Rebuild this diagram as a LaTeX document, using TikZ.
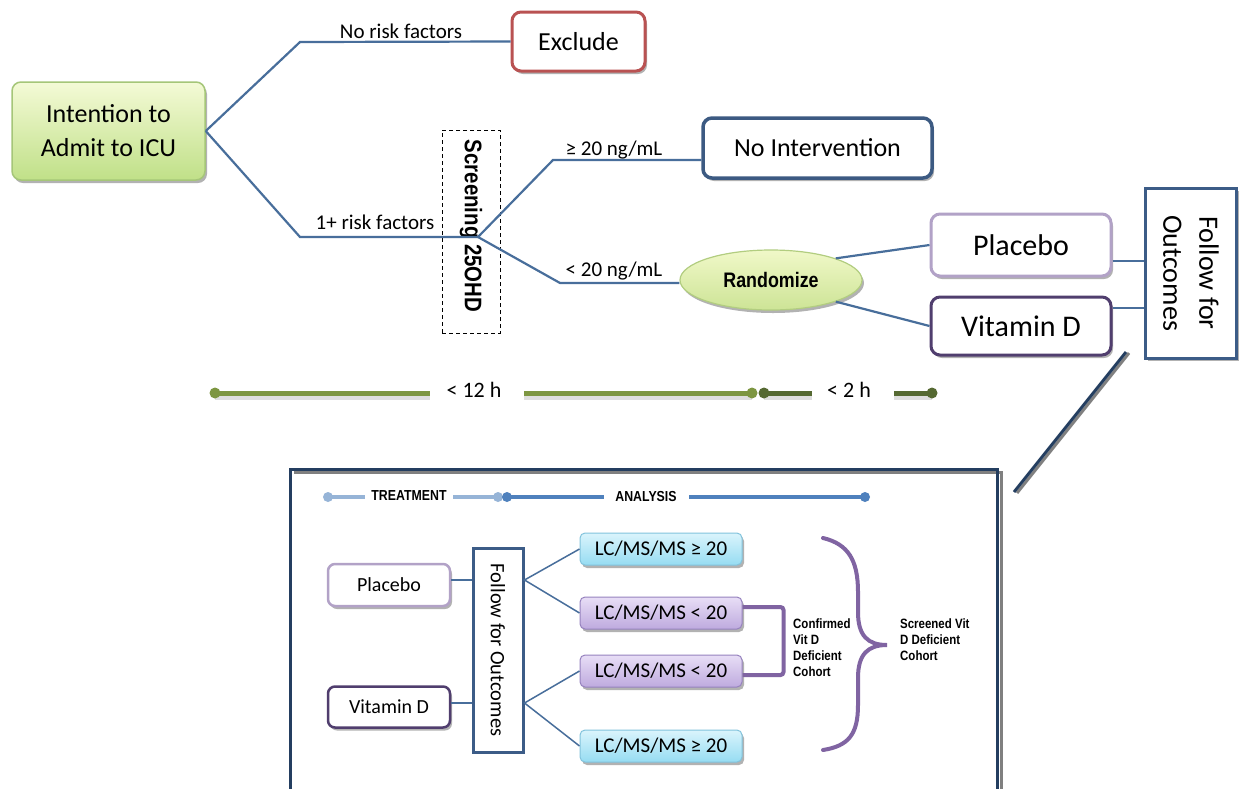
\documentclass[tikz,border=0pt]{standalone}
\usepackage{fontspec}
\setmainfont{Carlito}
\newfontfamily\narrowfont[FakeStretch=0.85]{Liberation Sans}
\usetikzlibrary{shadows,shapes.geometric,calc}
\definecolor{intTop}{RGB}{244,250,214}
\definecolor{intBot}{RGB}{192,224,136}
\definecolor{intB}{RGB}{165,198,120}
\definecolor{exclB}{RGB}{185,82,82}
\definecolor{noIntB}{RGB}{60,90,130}
\definecolor{placB}{RGB}{178,162,199}
\definecolor{vitB}{RGB}{80,62,110}
\definecolor{follB}{RGB}{60,92,135}
\definecolor{randTop}{RGB}{240,248,200}
\definecolor{randBot}{RGB}{205,228,150}
\definecolor{randB}{RGB}{178,205,128}
\definecolor{conn}{RGB}{72,110,155}
\definecolor{tlLight}{RGB}{125,150,65}
\definecolor{tlDark}{RGB}{85,105,50}
\definecolor{frameC}{RGB}{36,62,96}
\definecolor{ptlLight}{RGB}{150,180,215}
\definecolor{ptlDark}{RGB}{79,129,189}
\definecolor{cyanTop}{RGB}{218,244,252}
\definecolor{cyanBot}{RGB}{150,220,242}
\definecolor{cyanB}{RGB}{130,195,220}
\definecolor{purTop}{RGB}{232,222,246}
\definecolor{purBot}{RGB}{190,170,222}
\definecolor{purB}{RGB}{150,130,190}
\definecolor{braceC}{RGB}{128,100,162}
\tikzset{
  shad/.style={drop shadow={shadow xshift=2pt,shadow yshift=-3pt,opacity=0.3,fill=black}},
  rbox/.style={rectangle,rounded corners=9,fill=white,align=center,inner sep=0pt,shad},
  bigfont/.style={font=\fontsize{26}{34}\selectfont},
  lbl/.style={font=\fontsize{21}{24}\selectfont,inner sep=1pt},
  conn/.style={draw=conn,line width=2.2},
  boldn/.style={font=\narrowfont\bfseries\fontsize{#1}{#1}\selectfont},
  lcbox/.style={rectangle,rounded corners=5,draw=#1B,top color=#1Top,bottom color=#1Bot,line width=1,
    minimum width=162,minimum height=32,inner sep=0pt,font=\fontsize{21}{24}\selectfont,shad},
  tldot/.style={circle,fill=#1,inner sep=0pt,minimum size=11},
  smalltxt/.style={anchor=north west,align=left,inner sep=0pt,font=\narrowfont\bfseries\fontsize{13.5}{16}\selectfont}
}
\begin{document}
\begin{tikzpicture}[x=1pt,y=-1pt]
\useasboundingbox (0,0) rectangle (1239,788);
\fill[white] (0,0) rectangle (1239,788);

% ---------- top diagram nodes ----------
\node[rbox,draw=intB,line width=1.5,top color=intTop,bottom color=intBot,minimum width=193,minimum height=98,bigfont] (intent) at (108.5,131) {Intention to\\Admit to ICU};
\node[rbox,draw=exclB,line width=3,minimum width=133,minimum height=59,bigfont] (excl) at (578.5,41.5) {Exclude};
\node[draw,dashed,dash pattern=on 4pt off 3pt,line width=1,minimum width=58,minimum height=203,inner sep=0pt] (scr) at (471,231.5) {};
\node[rotate=-90,inner sep=0pt,boldn=24] (scrtxt) at (471,226) {Screening 25OHD};
\node[rbox,draw=noIntB,line width=3.5,minimum width=229,minimum height=60,bigfont] (noint) at (817.5,148) {No Intervention};
\node[ellipse,draw=randB,line width=1.2,top color=randTop,bottom color=randBot,minimum width=182,minimum height=60,inner sep=0pt,boldn=21,shad] (rand) at (771,280) {Randomize};
\node[rbox,draw=placB,line width=3,minimum width=180,minimum height=62,font=\fontsize{30}{34}\selectfont] (plac) at (1021,245) {Placebo};
\node[rbox,draw=vitB,line width=3,minimum width=180,minimum height=58,font=\fontsize{30}{34}\selectfont] (vit) at (1021,326) {Vitamin D};
\node[draw=follB,fill=white,line width=3,rotate=-90,minimum width=170,minimum height=91,inner sep=0pt,align=center,font=\fontsize{28}{36}\selectfont,shad] (follow) at (1191,273) {Follow for\\Outcomes};

% ---------- top connectors ----------
\coordinate (j1) at (300,42);
\coordinate (j2) at (300,237);
\coordinate (bp) at (478,237);
\coordinate (u1) at (553,160);
\coordinate (l1) at (560,283);
\draw[conn] (intent.east) -- (j1) -- (excl.west);
\draw[conn] (intent.east) -- (j2) -- (bp);
\draw[conn] (bp) -- (u1) -- (noint.west |- u1);
\draw[conn] (bp) -- (l1) -- (rand.west |- l1);
\draw[conn] (rand.north east) -- (plac.west);
\draw[conn] (rand.south east) -- (vit.west);
\coordinate (pl1) at ([yshift=-16pt]plac.east);
\coordinate (vi1) at ([yshift=18pt]vit.east);
\draw[draw=conn,line width=1.5] (pl1) -- (pl1 -| follow.south);
\draw[draw=conn,line width=1.5] (vi1) -- (vi1 -| follow.south);

\node[lbl] (lnr) at (401,31) {No risk factors};
\node[lbl] (l1r) at (375,222) {1+ risk factors};
\node[lbl] (lge) at (614,150) {≥ 20 ng/mL};
\node[lbl] (llt) at (614,271) {< 20 ng/mL};

% ---------- time line ----------
\coordinate (t1) at (215,393);
\coordinate (t1e) at (430,393);
\coordinate (t2s) at (524,393);
\coordinate (t2) at (752,393);
\coordinate (t3) at (764,393);
\coordinate (t3e) at (812,393);
\coordinate (t4s) at (894,393);
\coordinate (t4) at (932,393);
\node[font=\fontsize{22}{24}\selectfont] (h12) at (474,390) {< 12 h};
\node[font=\fontsize{22}{24}\selectfont] (h2) at (849,390) {< 2 h};
\begin{scope}[line width=5]
\draw[black,opacity=0.13,line width=6] ([yshift=-4pt]t1) -- ([yshift=-4pt]t1e);
\draw[black,opacity=0.13,line width=6] ([yshift=-4pt]t2s) -- ([yshift=-4pt]t2);
\draw[black,opacity=0.13,line width=6] ([yshift=-4pt]t3) -- ([yshift=-4pt]t3e);
\draw[black,opacity=0.13,line width=6] ([yshift=-4pt]t4s) -- ([yshift=-4pt]t4);
\draw[tlLight] (t1) -- (t1e);
\draw[tlLight] (t2s) -- (t2);
\draw[tlDark] (t3) -- (t3e);
\draw[tlDark] (t4s) -- (t4);
\end{scope}
\node[tldot=tlLight] (d1) at (t1) {};
\node[tldot=tlLight] (d2) at (t2) {};
\node[tldot=tlDark] (d3) at (t3) {};
\node[tldot=tlDark] (d4) at (t4) {};

% ---------- zoom line ----------
\coordinate (z1) at (1126,352);
\coordinate (z2) at (1014,492);
\draw[gray,line width=3] ([xshift=3pt,yshift=-1pt]z1) -- ([xshift=3pt,yshift=-1pt]z2);
\draw[frameC,line width=3] (z1) -- (z2);

% ---------- panel ----------
\draw[gray,line width=3] (294,472) -- (1001,472) -- (1001,790);
\draw[frameC,line width=3] (290,790) -- (290,469) -- (997,469) -- (997,790);

% panel timeline
\coordinate (p1) at (328,497);
\coordinate (p1e) at (365,497);
\coordinate (p2s) at (453,497);
\coordinate (p2) at (498,497);
\coordinate (p3) at (507,497);
\coordinate (p3e) at (604,497);
\coordinate (p4s) at (689,497);
\coordinate (p4) at (865,497);
\node[boldn=14.5] (treat) at (409,496) {TREATMENT};
\node[boldn=14.5] (anal) at (646,496) {ANALYSIS};
\draw[ptlLight,line width=4] (p1) -- (p1e);
\draw[ptlLight,line width=4] (p2s) -- (p2);
\draw[ptlDark,line width=3.5] (p3) -- (p3e);
\draw[ptlDark,line width=3.5] (p4s) -- (p4);
\node[tldot=ptlLight,minimum size=10] (pd1) at (p1) {};
\node[tldot=ptlLight,minimum size=10] (pd2) at (p2) {};
\node[tldot=ptlDark,minimum size=10] (pd3) at (p3) {};
\node[tldot=ptlDark,minimum size=10] (pd4) at (p4) {};

% panel nodes
\node[rbox,draw=placB,line width=2.5,rounded corners=7,minimum width=122,minimum height=42,font=\fontsize{20}{24}\selectfont] (plac2) at (389,585) {Placebo};
\node[rbox,draw=vitB,line width=2.5,rounded corners=7,minimum width=122,minimum height=41,font=\fontsize{20}{24}\selectfont] (vit2) at (389,707) {Vitamin D};
\node[draw=follB,fill=white,line width=3,rotate=-90,minimum width=204,minimum height=50,inner sep=0pt,font=\fontsize{20.5}{24}\selectfont] (follow2) at (498,650) {Follow for Outcomes};
\node[lcbox=cyan] (lc1) at (661,549) {LC/MS/MS ≥ 20};
\node[lcbox=pur] (lc2) at (661,613) {LC/MS/MS < 20};
\node[lcbox=pur] (lc3) at (661,671) {LC/MS/MS < 20};
\node[lcbox=cyan] (lc4) at (661,746) {LC/MS/MS ≥ 20};

\coordinate (pb1) at ([yshift=5pt]plac2.east -| follow2.north);
\coordinate (pb2) at ([yshift=4pt]vit2.east -| follow2.north);
\draw[draw=conn,line width=2] ([yshift=5pt]plac2.east) -- (pb1 -| follow2.south);
\draw[draw=conn,line width=2] ([yshift=4pt]vit2.east) -- (pb2 -| follow2.south);
\draw[draw=conn,line width=1.5] (lc1.west) -- (pb1) -- (lc2.west);
\draw[draw=conn,line width=1.5] (lc3.west) -- (pb2) -- (lc4.west);

% bracket and brace
\draw[braceC,line width=4,rounded corners=3] ([yshift=6pt]lc2.east) -- ++(41,0) |- ([yshift=-4pt]lc3.east);
\node[smalltxt] (conf) at (793,619) {Confirmed\\Vit D\\Deficient\\Cohort};
\coordinate (br1) at (823,538);
\coordinate (brt) at (887,645);
\coordinate (br2) at (823,750);
\draw[braceC,line width=4,line cap=round] (br1) .. controls (848,544) and (858,560) .. (858,592) -- (858,612) .. controls (858,636) and (868,645) .. (brt) .. controls (868,645) and (858,654) .. (858,678) -- (858,705) .. controls (858,735) and (848,746) .. (br2);
\node[smalltxt] (scrd) at (900,619) {Screened Vit\\D Deficient\\Cohort};
\end{tikzpicture}
\end{document}
